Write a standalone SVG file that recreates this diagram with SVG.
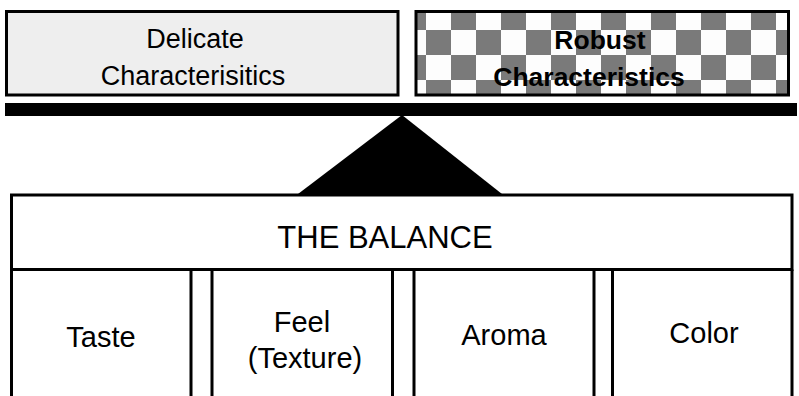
<svg xmlns="http://www.w3.org/2000/svg" width="799" height="396" viewBox="0 0 799 396">
  <defs>
    <pattern id="checker" x="401" y="5" width="50" height="50" patternUnits="userSpaceOnUse">
      <rect x="0" y="0" width="50" height="50" fill="#fdfdfd"/>
      <rect x="0" y="0" width="25" height="25" fill="#7a7a7a"/>
      <rect x="25" y="25" width="25" height="25" fill="#7a7a7a"/>
    </pattern>
  </defs>
  <style>
    text { font-family: "Liberation Sans", Arial, sans-serif; fill: #000; text-anchor: middle; }
    .top { font-size: 27px; }
    .bold { font-size: 26.5px; font-weight: bold; }
    .cell { fill: #fff; stroke: #000; stroke-width: 3; }
    .lbl { font-size: 29px; }
    .title { font-size: 31px; }
    .edge { fill: none; stroke: #000; stroke-width: 3; }
  </style>
  <rect width="799" height="396" fill="#fff"/>

  <g id="delicate">
    <rect x="6.5" y="11.5" width="391.5" height="83.5" fill="#eeeeee" stroke="#000" stroke-width="3"/>
    <text class="top"><tspan x="195" y="48">Delicate</tspan><tspan x="193" y="85">Characterisitics</tspan></text>
  </g>

  <g id="robust">
    <rect x="416" y="11.5" width="372.5" height="83.5" fill="url(#checker)" stroke="#000" stroke-width="3"/>
    <text class="bold"><tspan x="600" y="49">Robust</tspan><tspan x="589" y="86">Characteristics</tspan></text>
  </g>

  <g id="beam">
    <rect x="5" y="103" width="792" height="13" fill="#000"/>
  </g>

  <g id="fulcrum">
    <polygon points="402,115 502,194 298,194" fill="#000"/>
  </g>

  <g id="balance">
    <rect class="cell" x="11.5" y="195" width="780.5" height="74.5"/>
    <text class="title" x="385" y="248">THE BALANCE</text>
  </g>

  <g id="taste">
    <path class="edge" d="M11.5,269.5 V400 M191,269.5 V400"/>
    <text class="lbl" x="101" y="347">Taste</text>
  </g>

  <g id="feel">
    <path class="edge" d="M212,269.5 V400 M392.5,269.5 V400"/>
    <text class="lbl"><tspan x="302" y="332">Feel</tspan><tspan x="305" y="368">(Texture)</tspan></text>
  </g>

  <g id="aroma">
    <path class="edge" d="M414,269.5 V400 M594,269.5 V400"/>
    <text class="lbl" x="504" y="345">Aroma</text>
  </g>

  <g id="color">
    <path class="edge" d="M612.5,269.5 V400 M792,269.5 V400"/>
    <text class="lbl" x="704" y="343">Color</text>
  </g>

  <g id="connectors"></g>
</svg>
